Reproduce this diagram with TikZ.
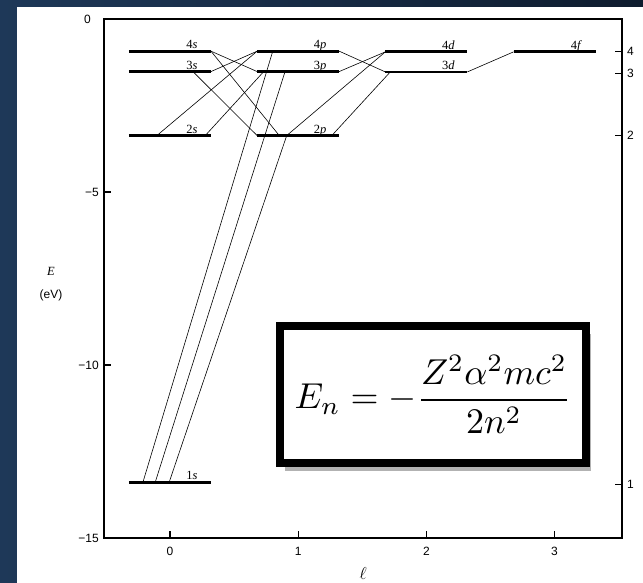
\documentclass[tikz,border=0pt]{standalone}
\usepackage{fontspec}
\usetikzlibrary{calc,shadows}
\newfontfamily\axefont{Liberation Sans}
\newfontfamily\etiqfont{Liberation Serif}
\definecolor{fond}{RGB}{30,56,88}
\definecolor{fondsombre}{RGB}{14,28,46}
\tikzset{
  palier/.style={minimum width=82pt, minimum height=0pt, inner sep=0pt, outer sep=0pt},
  niveau/.style={line width=2.8pt},
  transition/.style={line width=0.6pt},
  cadre/.style={line width=1.1pt},
  etiq/.style={anchor=base, inner sep=0pt, font=\etiqfont\fontsize{12.5}{14}\selectfont},
  graduation/.style={font=\axefont\fontsize{12}{13}\selectfont, inner sep=0pt},
  boite/.style={draw=black, line width=8pt, fill=white, minimum width=306pt, minimum height=137.5pt, inner sep=0pt,
    drop shadow={shadow xshift=5pt, shadow yshift=-8pt, fill=black, opacity=0.3}}
}
\begin{document}
\begin{tikzpicture}[x=128.2pt, y=34.6pt]
			% Fond et panneau blanc
			\shade[left color=fond, right color=fondsombre] (-1.326,0.549) rectangle (3.690,-16.301);
			\fill[white] (-1.193,0.347) rectangle (3.690,-16.301);

			% Cadre du graphique
			\draw[cadre] (-0.515,0) rectangle (3.526,-15);
			\foreach \x in {0,1,2,3} {
				\draw[cadre] (\x,-15) -- ++(0,7pt);
				\node[graduation, anchor=north] at ($(\x,-15)+(0,-9pt)$) {\x};
			}
			\foreach \e in {-5,-10} \draw[cadre] (-0.515,\e) -- ++(7pt,0);
			\node[graduation, anchor=east] at ($(-0.515,0)+(-13pt,0)$) {0};
			\foreach \e in {5,10,15} \node[graduation, anchor=east] at ($(-0.515,-\e)+(-5pt,0)$) {−\e};

			% Axe de droite : nombre quantique n
			\foreach \n/\e in {4/-0.95, 3/-1.58, 2/-3.36, 1/-13.45} {
				\draw[cadre] (3.526,\e) -- ++(-7pt,0);
				\node[graduation, anchor=west] at ($(3.526,\e)+(5pt,0)$) {\n};
			}

			% Titres des axes
			\node[font=\etiqfont\fontsize{12.5}{14}\selectfont] at (-0.928,-7.283) {\textit{E}};
			\node[font=\axefont\fontsize{12}{13}\selectfont] at (-0.928,-7.977) {(eV)};
			\node[font=\fontsize{17}{18}\selectfont] at (1.508,-16.02) {$\ell$};

			% Niveaux d'energie
			\foreach \n/\lettre/\posl/\ener in {4/s/0/-0.93, 3/s/0/-1.52, 2/s/0/-3.37, 1/s/0/-13.39,
					4/p/1/-0.93, 3/p/1/-1.52, 2/p/1/-3.37, 4/d/2/-0.95, 3/d/2/-1.53, 4/f/3/-0.95} {
				\node[palier] (\n\lettre) at (\posl,\ener) {};
				\draw[niveau] (\n\lettre.west) -- (\n\lettre.east);
				\node[etiq] at ($(\n\lettre.east)+(-19pt,2.5pt)$) {\n\textit{\lettre}};
			}

			% Transitions permises
			\draw[transition] (4s.east) -- (3p.west);
			\draw[transition] (4s.east) -- ($(2p.west)!0.27!(2p.east)$);
			\draw[transition] ($(3s.west)!0.78!(3s.east)$) -- (2p.west);
			\draw[transition] (3s.east) -- (4p.west);
			\draw[transition] ($(2s.west)!0.34!(2s.east)$) -- (4p.west);
			\draw[transition] ($(2s.west)!0.93!(2s.east)$) -- ($(3p.west)!0.08!(3p.east)$);
			\draw[transition] ($(1s.west)!0.17!(1s.east)$) -- ($(4p.west)!0.19!(4p.east)$);
			\draw[transition] ($(1s.west)!0.32!(1s.east)$) -- ($(3p.west)!0.34!(3p.east)$);
			\draw[transition] ($(1s.west)!0.49!(1s.east)$) -- ($(2p.west)!0.36!(2p.east)$);
			\draw[transition] (4p.east) -- (3d.west);
			\draw[transition] (3p.east) -- (4d.west);
			\draw[transition] ($(2p.west)!0.36!(2p.east)$) -- (4d.west);
			\draw[transition] ($(2p.west)!0.91!(2p.east)$) -- ($(3d.west)!0.06!(3d.east)$);
			\draw[transition] (3d.east) -- (4f.west);

			% Formule encadree
			\node[boite] (formule) at (2.051,-10.853)
				{\scalebox{3.6}{$\displaystyle E_n = -\frac{Z^2\alpha^2mc^2}{2n^2}$}};

		\end{tikzpicture}
\end{document}
